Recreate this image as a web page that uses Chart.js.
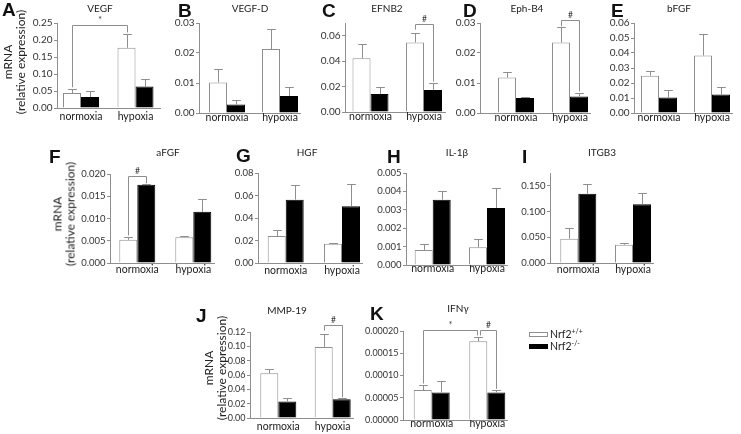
<!DOCTYPE html>
<html><head><meta charset="utf-8">
<script src="https://cdn.jsdelivr.net/npm/chart.js@4"></script>
<style>
html,body{margin:0;padding:0;background:#fff;width:741px;height:434px;overflow:hidden;}
#wrap{position:relative;width:741px;height:434px;}
canvas{position:absolute;}
.t{position:absolute;font-family:Lato,sans-serif;font-size:10px;color:#222;white-space:nowrap;transform:translate(-50%,-50%);line-height:1;}
.L{position:absolute;font-family:'Liberation Sans',Arial,sans-serif;font-weight:bold;font-size:19px;color:#111;transform:translate(0,-50%);line-height:1;}
.yt{position:absolute;font-family:Lato,sans-serif;font-size:12px;color:#222;text-align:center;line-height:12.5px;white-space:nowrap;transform:translate(-50%,-50%) rotate(-90deg);}
.lg{position:absolute;font-family:Lato,sans-serif;font-size:10.5px;color:#222;white-space:nowrap;line-height:1;transform:translate(0,-50%);}
.lg sup{font-size:7px;vertical-align:4px;}
.box{position:absolute;width:19px;height:5px;box-sizing:border-box;}
</style></head><body><div id="wrap"></div>
<script>
// ---------- data ----------
const categories = ['normoxia', 'hypoxia'];
const seriesNames = ['Nrf2+/+', 'Nrf2-/-'];

const vegfTicks = ['0.00','0.05','0.10','0.15','0.20','0.25'];
const vegfWT = [0.044, 0.177];   const vegfWTsem = [0.0124, 0.042];
const vegfKO = [0.032, 0.063];   const vegfKOsem = [0.0186, 0.0236];
const vegfSig = [{a:[0,0], b:[1,0], top:0.243, ya:0.061, yb:0.222, mark:'*'}];

const vegfdTicks = ['0.00','0.01','0.02','0.03'];
const vegfdWT = [0.0102, 0.0213]; const vegfdWTsem = [0.0044, 0.0067];
const vegfdKO = [0.0028, 0.0057]; const vegfdKOsem = [0.0014, 0.0030];
const vegfdSig = [];

const efnb2Ticks = ['0.00','0.01','0.02','0.03','0.04','0.05','0.06','0.07'];
const efnb2WT = [0.0422, 0.0547]; const efnb2WTsem = [0.0112, 0.0078];
const efnb2KO = [0.0141, 0.0174]; const efnb2KOsem = [0.0054, 0.0058];
const efnb2Sig = [{a:[1,0], b:[1,1], top:0.0695, ya:0.0648, yb:0.0239, mark:'#'}];

const ephb4Ticks = ['0.00','0.01','0.02','0.03'];
const ephb4WT = [0.0118, 0.0235]; const ephb4WTsem = [0.0020, 0.0050];
const ephb4KO = [0.0050, 0.0055]; const ephb4KOsem = [0.0002, 0.0013];
const ephb4Sig = [{a:[1,0], b:[1,1], top:0.0309, ya:0.0289, yb:0.0072, mark:'#'}];

const bfgfTicks = ['0.00','0.01','0.02','0.03','0.04','0.05','0.06'];
const bfgfWT = [0.0249, 0.0383]; const bfgfWTsem = [0.0031, 0.0143];
const bfgfKO = [0.0103, 0.0123]; const bfgfKOsem = [0.0049, 0.0047];
const bfgfSig = [];

const afgfTicks = ['0.000','0.005','0.010','0.015','0.020'];
const afgfWT = [0.0052, 0.0058]; const afgfWTsem = [0.0006, 0.0002];
const afgfKO = [0.0176, 0.0115]; const afgfKOsem = [0.0002, 0.0029];
const afgfSig = [{a:[0,0], b:[0,1], top:0.0196, ya:0.0062, yb:0.0179, mark:'#'}];

const hgfTicks = ['0.00','0.02','0.04','0.06','0.08'];
const hgfWT = [0.0240, 0.0172]; const hgfWTsem = [0.0057, 0.0008];
const hgfKO = [0.0563, 0.0505]; const hgfKOsem = [0.0134, 0.0200];
const hgfSig = [];

const il1bTicks = ['0.000','0.001','0.002','0.003','0.004','0.005'];
const il1bWT = [0.00082, 0.00096]; const il1bWTsem = [0.00031, 0.00044];
const il1bKO = [0.00355, 0.00310]; const il1bKOsem = [0.00049, 0.00110];
const il1bSig = [];

const itgb3Ticks = ['0.000','0.025','0.050','0.075','0.100','0.125','0.150','0.175'];
const itgb3WT = [0.0473, 0.0356]; const itgb3WTsem = [0.0214, 0.0024];
const itgb3KO = [0.1348, 0.1140]; const itgb3KOsem = [0.0195, 0.0230];
const itgb3Sig = [];

const mmp19Ticks = ['0.00','0.02','0.04','0.06','0.08','0.10','0.12'];
const mmp19WT = [0.0623, 0.0992]; const mmp19WTsem = [0.0065, 0.0185];
const mmp19KO = [0.0231, 0.0263]; const mmp19KOsem = [0.0046, 0.0014];
const mmp19Sig = [{a:[1,0], b:[1,1], top:0.130, ya:0.122, yb:0.029, mark:'#'}];

const ifngTicks = ['0.00000','0.00005','0.00010','0.00015','0.00020'];
const ifngWT = [0.0000672, 0.0001769]; const ifngWTsem = [0.0000104, 0.0000097];
const ifngKO = [0.0000619, 0.0000620]; const ifngKOsem = [0.0000262, 0.0000050];
const ifngSig = [
  {a:[0,0], b:[1,0], top:0.000203, ya:0.000082, yb:0.000190, mark:'*'},
  {a:[1,0], b:[1,1], top:0.000203, ya:0.000190, yb:0.000070, mark:'#'}
];

// ---------- layout (pixels) ----------
const panels = [
 {letter:'A', title:'VEGF',   ticks:vegfTicks,  wt:vegfWT,  wts:vegfWTsem,  ko:vegfKO,  kos:vegfKOsem,  sig:vegfSig,
  L:57, R:160, top:23, bottom:108, c1:81, c2:135.5, pad:2.7, tf:10, tpos:[100,8], lpos:[2,9]},
 {letter:'B', title:'VEGF-D', ticks:vegfdTicks, wt:vegfdWT, wts:vegfdWTsem, ko:vegfdKO, kos:vegfdKOsem, sig:vegfdSig,
  L:199, R:300, top:23, bottom:113, c1:227, c2:280, pad:-1.7, tf:10, tpos:[250,8], lpos:[178,10]},
 {letter:'C', title:'EFNB2',  ticks:efnb2Ticks, wt:efnb2WT, wts:efnb2WTsem, ko:efnb2KO, kos:efnb2KOsem, sig:efnb2Sig,
  L:345, R:445, top:23, bottom:112, c1:370.5, c2:424, pad:-1.3, tf:10, tpos:[387,8], lpos:[322,10]},
 {letter:'D', title:'Eph-B4', ticks:ephb4Ticks, wt:ephb4WT, wts:ephb4WTsem, ko:ephb4KO, kos:ephb4KOsem, sig:ephb4Sig,
  L:480, R:590, top:23, bottom:113, c1:516, c2:570, pad:-1.8, tf:10, tpos:[527,8], lpos:[463,10]},
 {letter:'E', title:'bFGF',   ticks:bfgfTicks,  wt:bfgfWT,  wts:bfgfWTsem,  ko:bfgfKO,  kos:bfgfKOsem,  sig:bfgfSig,
  L:634, R:732, top:23, bottom:113, c1:659, c2:712, pad:-1.7, tf:10, tpos:[679,8], lpos:[611,10]},
 {letter:'F', title:'aFGF',   ticks:afgfTicks,  wt:afgfWT,  wts:afgfWTsem,  ko:afgfKO,  kos:afgfKOsem,  sig:afgfSig,
  L:110, R:214, top:174, bottom:263, c1:137.3, c2:193.3, pad:0.7, tf:9.5, tpos:[168,152], lpos:[49,156]},
 {letter:'G', title:'HGF',    ticks:hgfTicks,   wt:hgfWT,   wts:hgfWTsem,   ko:hgfKO,   kos:hgfKOsem,   sig:hgfSig,
  L:258, R:362, top:173, bottom:263, c1:285.7, c2:342, pad:1.5, tf:9.5, tpos:[307,152], lpos:[236,155]},
 {letter:'H', title:'IL-1\u03B2', ticks:il1bTicks, wt:il1bWT, wts:il1bWTsem, ko:il1bKO, kos:il1bKOsem, sig:il1bSig,
  L:406, R:507, top:173, bottom:265, c1:432.7, c2:487, pad:-2.3, tf:9.5, tpos:[457,152], lpos:[387,156]},
 {letter:'I', title:'ITGB3',  ticks:itgb3Ticks, wt:itgb3WT, wts:itgb3WTsem, ko:itgb3KO, kos:itgb3KOsem, sig:itgb3Sig,
  L:550, R:653, top:173, bottom:263, c1:578.3, c2:633, pad:-0.1, tf:9.5, tpos:[602,152], lpos:[522,156]},
 {letter:'J', title:'MMP-19', ticks:mmp19Ticks, wt:mmp19WT, wts:mmp19WTsem, ko:mmp19KO, kos:mmp19KOsem, sig:mmp19Sig,
  L:250, R:353, top:332, bottom:418, c1:278.3, c2:332.7, pad:2.7, tf:9, tpos:[287,310], lpos:[196,315]},
 {letter:'K', title:'IFN\u03B3', ticks:ifngTicks, wt:ifngWT, wts:ifngWTsem, ko:ifngKO, kos:ifngKOsem, sig:ifngSig,
  L:403, R:507, top:331, bottom:420, c1:431.7, c2:487.3, pad:-2.3, tf:9, tpos:[458,308], lpos:[370,313]}
];

const GRAY = '#8e8e8e';
const wrap = document.getElementById('wrap');

const errPlugin = {
  id: 'errbars',
  afterDatasetsDraw(chart) {
    const {ctx} = chart; const y = chart.scales.y;
    ctx.save(); ctx.strokeStyle = GRAY; ctx.lineWidth = 1;
    chart.data.datasets.forEach((ds, di) => {
      chart.getDatasetMeta(di).data.forEach((bar, i) => {
        const topPx = Math.round(y.getPixelForValue(ds.data[i].y + ds.sem[i])) + 0.5;
        const x = Math.round(bar.x) + 0.5;
        const cap = bar.width * 0.24;
        ctx.beginPath();
        ctx.moveTo(x, bar.y); ctx.lineTo(x, topPx);
        ctx.moveTo(x - cap, topPx); ctx.lineTo(x + cap, topPx);
        ctx.stroke();
      });
    });
    ctx.restore();
  }
};

function bracketPlugin(sig) {
  return {
    id: 'brackets',
    afterDraw(chart) {
      if (!sig.length) return;
      const {ctx} = chart; const y = chart.scales.y;
      const ends = {};
      sig.forEach(s => { [s.a, s.b].forEach(e => { const k = e.join('-'); ends[k] = (ends[k] || 0) + 1; }); });
      ctx.save(); ctx.strokeStyle = GRAY; ctx.lineWidth = 1;
      sig.forEach(s => {
        const xa0 = chart.getDatasetMeta(s.a[1]).data[s.a[0]].x;
        const xb0 = chart.getDatasetMeta(s.b[1]).data[s.b[0]].x;
        const xa = Math.round(xa0 + (ends[s.a.join('-')] > 1 ? 1.5 : 0)) + 0.5;
        const xb = Math.round(xb0 - (ends[s.b.join('-')] > 1 ? 1.5 : 0)) + 0.5;
        const yt = Math.round(y.getPixelForValue(s.top)) + 0.5;
        ctx.beginPath();
        ctx.moveTo(xa, y.getPixelForValue(s.ya)); ctx.lineTo(xa, yt);
        ctx.lineTo(xb, yt); ctx.lineTo(xb, y.getPixelForValue(s.yb));
        ctx.stroke();
        ctx.fillStyle = '#333'; ctx.font = '8.5px Lato, sans-serif';
        ctx.textAlign = 'center'; ctx.textBaseline = 'bottom';
        ctx.fillText(s.mark, (xa + xb) / 2, yt - 1);
      });
      ctx.restore();
    }
  };
}

const PT = 18, YW = 45, XH = 22, PR = 10;
panels.forEach(p => {
  const cv = document.createElement('canvas');
  const left = p.L - YW, top = p.top - PT;
  const w = p.R + PR - left, h = p.bottom - top + XH;
  cv.width = w; cv.height = h;
  cv.style.left = left + 'px'; cv.style.top = top + 'px';
  cv.style.width = w + 'px'; cv.style.height = h + 'px';
  wrap.appendChild(cv);
  const u = p.c2 - p.c1;
  const xmin = -(p.c1 - p.L) / u, xmax = 1 + (p.R - p.c2) / u;
  const tickVals = p.ticks.map(parseFloat);
  const cp = 36 / u;
  new Chart(cv, {
    type: 'bar',
    data: { datasets: [
      {label: seriesNames[0], data: p.wt.map((v, i) => ({x: i, y: v})), sem: p.wts,
       backgroundColor: '#ffffff', borderColor: GRAY, borderWidth: 1, categoryPercentage: cp, barPercentage: 1},
      {label: seriesNames[1], data: p.ko.map((v, i) => ({x: i, y: v})), sem: p.kos,
       backgroundColor: '#000000', borderColor: '#000000', borderWidth: 1, categoryPercentage: cp, barPercentage: 1}
    ]},
    options: {
      responsive: false, animation: false, events: [],
      layout: {padding: {top: PT, right: PR, left: 0, bottom: 0}},
      plugins: {legend: {display: false}, tooltip: {enabled: false}},
      scales: {
        x: {
          type: 'linear', min: xmin, max: xmax, offset: false, bounds: 'data', grace: 0, beginAtZero: false,
          afterBuildTicks: s => { s.ticks = categories.map((c, i) => ({value: i})); },
          afterFit: s => { s.height = XH; },
          ticks: {callback: (v, i) => categories[i], padding: p.pad, color: '#222',
                  font: {family: 'Lato', size: 10.5}, maxRotation: 0, autoSkip: false},
          grid: {display: false, drawTicks: false, offset: false},
          border: {display: true, color: GRAY, width: 1}
        },
        y: {
          min: 0, max: tickVals[tickVals.length - 1],
          afterBuildTicks: s => { s.ticks = tickVals.map(v => ({value: v})); },
          afterFit: s => { s.width = YW; },
          ticks: {callback: (v, i) => p.ticks[i], padding: 1.5, color: '#333',
                  font: {family: 'Lato', size: p.tf}},
          grid: {display: true, drawOnChartArea: false, drawTicks: true, tickLength: 3, color: GRAY},
          border: {display: true, color: GRAY, width: 1}
        }
      }
    },
    plugins: [errPlugin, bracketPlugin(p.sig)]
  });
  const t = document.createElement('div'); t.className = 't'; t.textContent = p.title;
  t.style.left = p.tpos[0] + 'px'; t.style.top = p.tpos[1] + 'px'; wrap.appendChild(t);
  const l = document.createElement('div'); l.className = 'L'; l.textContent = p.letter;
  l.style.left = p.lpos[0] + 'px'; l.style.top = p.lpos[1] + 'px'; wrap.appendChild(l);
});

// y-axis titles
[[14, 62], [64, 214], [215, 368]].forEach(([x, y]) => {
  const d = document.createElement('div'); d.className = 'yt';
  d.innerHTML = 'mRNA<br>(relative expression)';
  d.style.left = x + 'px'; d.style.top = y + 'px'; wrap.appendChild(d);
});

// legend
[[334, '#ffffff', GRAY, '+/+'], [346, '#000000', '#000000', '-/-']].forEach(([y, fill, stroke, sup]) => {
  const b = document.createElement('div'); b.className = 'box';
  b.style.left = '529px'; b.style.top = (y - 2.5) + 'px';
  b.style.background = fill; b.style.border = '1px solid ' + stroke; wrap.appendChild(b);
  const tx = document.createElement('div'); tx.className = 'lg';
  tx.innerHTML = 'Nrf2<sup>' + sup + '</sup>';
  tx.style.left = '550px'; tx.style.top = y + 'px'; wrap.appendChild(tx);
});
</script></body></html>
